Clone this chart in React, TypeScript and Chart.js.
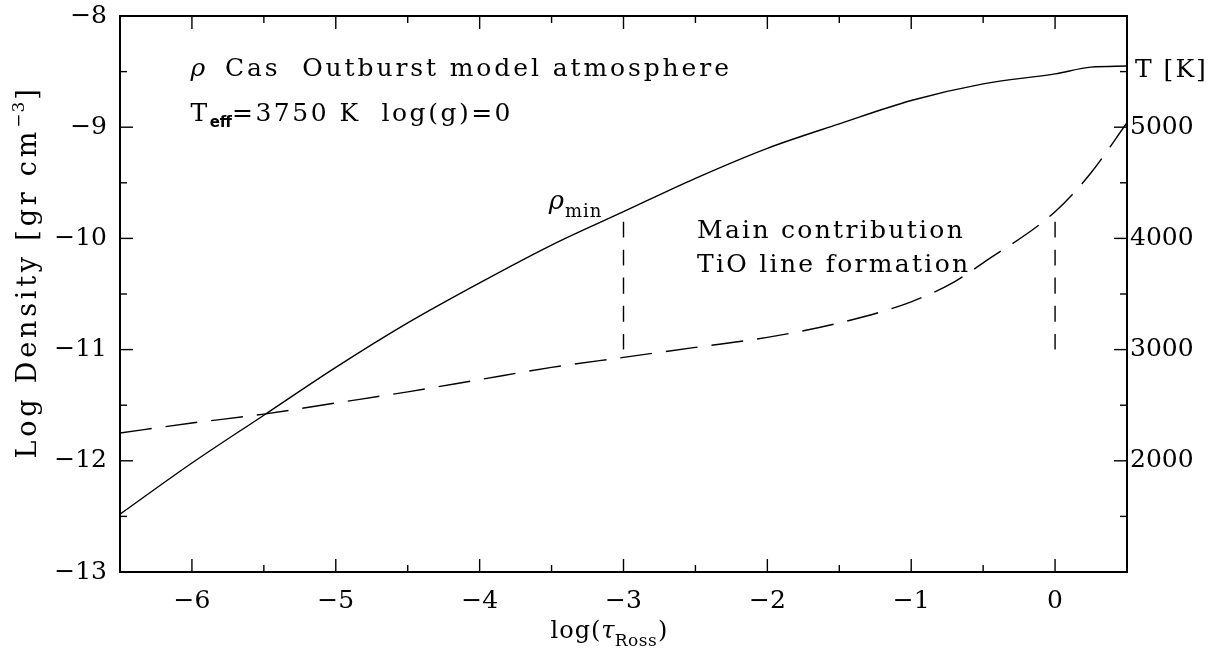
import React, { useEffect, useRef } from "react";
import { Chart, registerables } from "chart.js";

Chart.register(...registerables);

// ---- data ----
const TAU = [-6.5, -6, -5.5, -5, -4.5, -4, -3.5, -3, -2.5, -2, -1.5, -1, -0.5, 0, 0.25, 0.5];
const LOG_RHO = [-12.48, -12.02, -11.59, -11.16, -10.76, -10.4, -10.06, -9.76, -9.46, -9.19, -8.97, -8.76, -8.61, -8.52, -8.46, -8.45];

const TAU_T = [-6.5, -6, -5.5, -5, -4.5, -4, -3.5, -3, -2.5, -2, -1.5, -1, -0.7, -0.5, 0, 0.25, 0.5];
const TEMP = [2250, 2340, 2420, 2520, 2620, 2730, 2840, 2930, 3020, 3110, 3240, 3430, 3610, 3780, 4240, 4590, 5040];

const MARK_TAU = [-3, 0];
const MARK_RHO = [-9.85, -11.0];

const X_TICKS = [-6, -5, -4, -3, -2, -1, 0];
const X_MINOR = [-5.5, -4.5, -3.5, -2.5, -1.5, -0.5];
const Y_TICKS = [-13, -12, -11, -10, -9, -8];
const Y_MINOR = [-12.5, -11.5, -10.5, -9.5, -8.5];
const T_TICKS = [2000, 3000, 4000, 5000];
const T_MINOR = [1500, 2500, 3500, 4500, 5500];

const SERIF = '"DejaVu Serif", serif';
const fmt = (v: number) => (v < 0 ? "\u2212" + Math.abs(v) : String(v));

function txt(ctx: any, s: string, x: number, y: number, font: string, spacing = 0) {
  ctx.font = font;
  ctx.letterSpacing = spacing + "px";
  ctx.fillText(s, x, y);
  const w = ctx.measureText(s).width;
  ctx.letterSpacing = "0px";
  return x + w;
}

function measure(ctx: any, s: string, font: string, spacing = 0) {
  ctx.font = font;
  ctx.letterSpacing = spacing + "px";
  const w = ctx.measureText(s).width;
  ctx.letterSpacing = "0px";
  return w;
}

const decor = {
  id: "decor",
  afterDatasetsDraw(chart: any) {
    const { ctx, chartArea: a, scales } = chart;
    const xs = scales.x, ys = scales.y, ts = scales.y2;
    ctx.save();
    ctx.strokeStyle = "#000";
    ctx.fillStyle = "#000";
    ctx.lineWidth = 2;
    ctx.strokeRect(a.left, a.top, a.right - a.left, a.bottom - a.top);
    ctx.lineWidth = 1.4;
    const seg = (x0: number, y0: number, x1: number, y1: number) => {
      ctx.beginPath();
      ctx.moveTo(x0, y0);
      ctx.lineTo(x1, y1);
      ctx.stroke();
    };
    X_TICKS.forEach((v) => {
      const p = xs.getPixelForValue(v);
      seg(p, a.bottom, p, a.bottom - 13);
      seg(p, a.top, p, a.top + 13);
    });
    X_MINOR.forEach((v) => {
      const p = xs.getPixelForValue(v);
      seg(p, a.bottom, p, a.bottom - 7);
      seg(p, a.top, p, a.top + 7);
    });
    Y_TICKS.slice(1, -1).forEach((v) => {
      const p = ys.getPixelForValue(v);
      seg(a.left, p, a.left + 13, p);
    });
    Y_MINOR.forEach((v) => {
      const p = ys.getPixelForValue(v);
      seg(a.left, p, a.left + 7, p);
    });
    T_TICKS.forEach((v) => {
      const p = ts.getPixelForValue(v);
      seg(a.right, p, a.right - 13, p);
    });
    T_MINOR.forEach((v) => {
      const p = ts.getPixelForValue(v);
      seg(a.right, p, a.right - 7, p);
    });

    ctx.textBaseline = "alphabetic";
    ctx.textAlign = "left";
    const X = (v: number) => xs.getPixelForValue(v);
    const Y = (v: number) => ys.getPixelForValue(v);
    const F = (s: number) => `${s}px ${SERIF}`;
    const FI = (s: number) => `italic ${s}px ${SERIF}`;

    // title lines
    const cx = txt(ctx, "\u03c1", X(-6.01), Y(-8.544), FI(25));
    txt(ctx, "  Cas  Outburst model atmosphere", cx - 2, Y(-8.544), F(25), 2.9);
    const l2 = Y(-8.94);
    let tx = txt(ctx, "T", X(-6.01), l2, F(25), 2.5);
    tx = txt(ctx, "eff", tx, l2 + 6, `bold 15px "DejaVu Sans", sans-serif`);
    txt(ctx, "=3750 K  log(g)=0", tx, l2, F(25), 2.5);

    // rho_min
    const rb = Y(-9.74);
    const rx = txt(ctx, "\u03c1", X(-3.52), rb, FI(26));
    txt(ctx, "min", rx + 1, rb + 8, F(18), 1);

    // main contribution
    txt(ctx, "Main contribution", X(-2.489), Y(-9.999), F(25), 2.3);
    txt(ctx, "TiO line formation", X(-2.489), Y(-10.305), F(25), 2.3);

    // right axis title
    txt(ctx, "T [K]", a.right + 8, ts.getPixelForValue(5450), F(25), 2);

    // x axis title
    {
      const by = a.bottom + 66;
      const w =
        measure(ctx, "log(", F(24), 1) +
        measure(ctx, "\u03c4", FI(24)) +
        measure(ctx, "Ross", F(17), 0.5) +
        measure(ctx, ")", F(24), 1) + 1;
      let x0 = (a.left + a.right) / 2 - 14 - w / 2;
      x0 = txt(ctx, "log(", x0, by, F(24), 1);
      x0 = txt(ctx, "\u03c4", x0, by, FI(24), 0);
      x0 = txt(ctx, "Ross", x0, by + 8, F(17), 0.5);
      txt(ctx, ")", x0 + 1, by, F(24), 1);
    }

    // y axis title (rotated)
    {
      ctx.save();
      const midY = (a.top + a.bottom) / 2 - 22;
      ctx.translate(36, midY);
      ctx.rotate(-Math.PI / 2);
      const fs = 27, sp = 3.8;
      const w1 = measure(ctx, "Log Density [gr cm", F(fs), sp);
      const w2 = measure(ctx, "\u22123", F(17), 1);
      const w3 = measure(ctx, "]", F(fs), sp);
      const total = w1 + w2 + w3 + 1;
      let p = -total / 2;
      p = txt(ctx, "Log Density [gr cm", p, 0, F(fs), sp);
      p = txt(ctx, "\u22123", p, -12, F(17), 1);
      txt(ctx, "]", p + 1, 0, F(fs), sp);
      ctx.restore();
    }
    ctx.restore();
  },
};

export default function App() {
  const ref = useRef<HTMLCanvasElement | null>(null);
  useEffect(() => {
    document.body.style.margin = "0";
    const canvas = ref.current!;
    const lineDs = (data: any[], axis: string, dash: number[], width = 1.4) => ({
      data,
      yAxisID: axis,
      showLine: true,
      borderColor: "#000",
      backgroundColor: "#000",
      borderWidth: width,
      borderDash: dash,
      pointRadius: 0,
      cubicInterpolationMode: "monotone" as const,
      fill: false,
    });
    const noPad = (s: any) => {
      s.paddingTop = 0;
      s.paddingBottom = 0;
      s.paddingLeft = 0;
      s.paddingRight = 0;
    };
    const chart = new Chart(canvas, {
      type: "scatter",
      data: {
        datasets: [
          lineDs(TAU.map((x, i) => ({ x, y: LOG_RHO[i] })), "y", []),
          lineDs(TAU_T.map((x, i) => ({ x, y: TEMP[i] })), "y2", [32, 14]),
          ...MARK_TAU.map((t) => lineDs(MARK_RHO.map((r) => ({ x: t, y: r })), "y", [16, 12])),
        ],
      },
      options: {
        responsive: false,
        animation: false,
        events: [],
        layout: { padding: { top: 16, left: 0, right: 0, bottom: 0 } },
        plugins: { legend: { display: false }, tooltip: { enabled: false }, title: { display: false } },
        scales: {
          x: {
            type: "linear",
            position: "bottom",
            min: -6.5,
            max: 0.5,
            afterBuildTicks: (s: any) => {
              s.ticks = X_TICKS.map((v) => ({ value: v }));
            },
            afterFit: (s: any) => {
              s.height = 86;
              noPad(s);
            },
            grid: { display: false, drawTicks: false },
            border: { display: false },
            ticks: {
              autoSkip: false,
              maxRotation: 0,
              padding: 14,
              color: "#000",
              font: { family: SERIF, size: 25 },
              callback: (v: any) => fmt(Number(v)),
            },
          },
          y: {
            type: "linear",
            position: "left",
            min: -13,
            max: -8,
            afterBuildTicks: (s: any) => {
              s.ticks = Y_TICKS.map((v) => ({ value: v }));
            },
            afterFit: (s: any) => {
              s.width = 120;
              noPad(s);
            },
            grid: { display: false, drawTicks: false },
            border: { display: false },
            ticks: {
              autoSkip: false,
              padding: 13,
              color: "#000",
              font: { family: SERIF, size: 25 },
              callback: (v: any) => fmt(Number(v)),
            },
          },
          y2: {
            type: "linear",
            position: "right",
            min: 1000,
            max: 6000,
            afterBuildTicks: (s: any) => {
              s.ticks = T_TICKS.map((v) => ({ value: v }));
            },
            afterFit: (s: any) => {
              s.width = 90;
              noPad(s);
            },
            grid: { display: false, drawTicks: false },
            border: { display: false },
            ticks: {
              autoSkip: false,
              padding: 3,
              color: "#000",
              font: { family: SERIF, size: 25 },
              callback: (v: any) => String(v),
            },
          },
        },
      },
      plugins: [decor],
    });
    return () => chart.destroy();
  }, []);
  return <canvas ref={ref} width={1217} height={658} style={{ display: "block" }} />;
}
